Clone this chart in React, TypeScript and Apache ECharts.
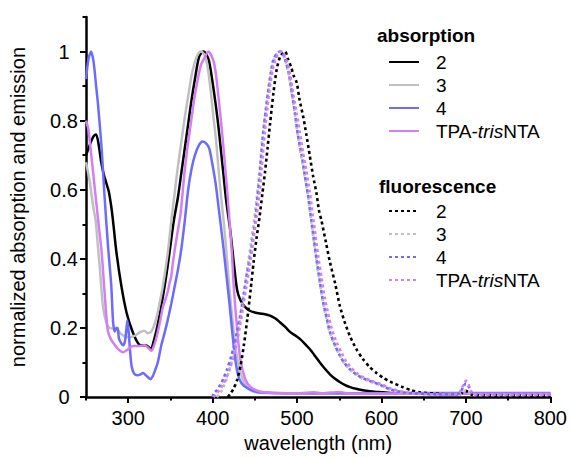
import React, { useEffect, useRef } from "react";
import * as echarts from "echarts";

const FONT = '"Liberation Sans", Arial, Helvetica, sans-serif';

const xMajorTicks = [300, 400, 500, 600, 700, 800];
const xMinorTicks = [250, 350, 450, 550, 650, 750];
const yMajorTicks = [0, 0.2, 0.4, 0.6, 0.8, 1.0];
const yMinorTicks = [0.1, 0.3, 0.5, 0.7, 0.9, 1.1];

const absNames = ["a2", "a3", "a4", "aT"];
const flNames = ["f2", "f3", "f4", "fT"];
const legendLabels: Record<string, string> = {
  a2: "2", a3: "3", a4: "4", aT: "TPA-{i|tris}NTA",
  f2: "2", f3: "3", f4: "4", fT: "TPA-{i|tris}NTA",
};
const colors = ["#000000", "#c0c0c0", "#6b6bff", "#d37ef5"];

// absorption, compound 2 (black)
const abs2 = [[250,0.70],[253,0.72],[256,0.74],[259,0.755],[262,0.76],[265,0.73],[268,0.68],[271,0.645],[274,0.62],[277,0.595],[280,0.55],[282,0.51],[286,0.42],[292,0.32],[298,0.245],[304,0.197],[310,0.163],[315,0.15],[321,0.15],[324,0.145],[327,0.139],[330,0.16],[333,0.188],[337,0.235],[341,0.29],[345,0.35],[349,0.42],[354,0.51],[359,0.58],[363,0.65],[367,0.72],[371,0.79],[375,0.86],[379,0.92],[384,0.985],[389,1.0],[393,0.99],[396,0.97],[400,0.91],[404,0.84],[407,0.78],[410,0.71],[413,0.64],[416,0.57],[421,0.48],[425,0.39],[429,0.31],[433,0.28],[438,0.262],[444,0.25],[450,0.245],[456,0.242],[462,0.24],[468,0.236],[474,0.228],[480,0.216],[486,0.203],[492,0.188],[498,0.178],[504,0.167],[509,0.155],[515,0.139],[521,0.12],[527,0.1],[533,0.082],[539,0.066],[545,0.053],[551,0.043],[557,0.035],[563,0.029],[570,0.024],[578,0.02],[586,0.017],[594,0.015],[610,0.012],[650,0.01],[700,0.01],[750,0.01],[800,0.01]];

// absorption, compound 3 (grey)
const abs3 = [[250,0.68],[254,0.63],[258.6,0.55],[261.5,0.51],[264,0.44],[266.5,0.37],[270,0.264],[274,0.216],[278,0.2],[286,0.197],[292,0.182],[300,0.173],[308,0.178],[314,0.188],[319,0.192],[323,0.185],[327.5,0.19],[333,0.225],[337,0.27],[341,0.32],[347,0.42],[351,0.51],[355,0.59],[359,0.67],[363,0.74],[367,0.81],[371,0.87],[375,0.93],[379,0.97],[382,0.99],[386,1.0],[389,0.995],[392,0.98],[395,0.94],[398,0.88],[401,0.81],[404,0.745],[407,0.66],[410,0.58],[413,0.51],[416,0.43],[419,0.34],[422,0.26],[425,0.19],[428,0.13],[432,0.08],[436,0.05],[440,0.032],[445,0.02],[450,0.015],[460,0.012],[500,0.01],[600,0.01],[700,0.01],[800,0.01]];

// absorption, compound 4 (blue)
const abs4 = [[250,0.92],[253,0.98],[256,1.0],[259,0.97],[262,0.9],[264.5,0.84],[268.5,0.72],[272,0.58],[276,0.44],[280,0.32],[282,0.22],[284,0.19],[286,0.2],[287.5,0.2],[289,0.17],[292,0.155],[294,0.15],[296,0.16],[298,0.2],[299,0.222],[300.5,0.19],[302,0.14],[304,0.09],[307,0.068],[311,0.063],[314,0.065],[317.5,0.07],[321,0.063],[324,0.056],[326.5,0.052],[329,0.06],[331,0.072],[335,0.1],[339,0.148],[343,0.185],[347,0.225],[351,0.27],[355,0.32],[359,0.37],[363,0.43],[367,0.51],[371,0.6],[375,0.66],[379,0.7],[384,0.73],[388,0.74],[392,0.735],[396,0.72],[400,0.67],[404,0.61],[408,0.53],[412,0.45],[416,0.36],[420,0.27],[424,0.17],[428,0.09],[432,0.05],[437,0.033],[448,0.018],[460,0.013],[500,0.011],[600,0.011],[650,0.012],[700,0.012],[750,0.012],[800,0.012]];

// absorption, TPA-trisNTA (violet)
const absT = [[250,0.8],[252.8,0.775],[256.7,0.69],[260.6,0.6],[264.5,0.51],[268.5,0.42],[271.5,0.32],[274.4,0.225],[276,0.19],[279,0.17],[282,0.158],[288,0.139],[294,0.13],[300,0.139],[305.8,0.148],[313.7,0.148],[319.6,0.15],[323.5,0.143],[327.5,0.134],[330,0.145],[333,0.168],[337,0.21],[341,0.26],[345,0.29],[347,0.307],[349,0.33],[351,0.35],[353,0.39],[356,0.44],[359,0.485],[362,0.53],[366.7,0.65],[370,0.72],[374.6,0.8],[378,0.86],[382.4,0.92],[386,0.96],[390,0.98],[395,1.0],[400,0.98],[403,0.95],[406,0.89],[409,0.82],[412,0.745],[415,0.66],[417.8,0.58],[420,0.51],[423,0.41],[425,0.32],[429,0.197],[432.8,0.11],[438.7,0.052],[444.6,0.03],[456,0.016],[470,0.012],[500,0.011],[520,0.014],[530,0.011],[550,0.015],[560,0.011],[600,0.01],[700,0.01],[800,0.01]];

// fluorescence, compound 2 (black dotted)
const fl2 = [[418,0],[421,0.01],[425,0.025],[429,0.05],[433,0.09],[437,0.15],[441,0.225],[445,0.31],[448.5,0.39],[452,0.46],[455.5,0.52],[459,0.59],[462,0.65],[465,0.72],[468,0.79],[472,0.88],[476,0.95],[480,0.985],[484,0.998],[486,1.0],[489,0.98],[493,0.955],[496,0.93],[499.6,0.91],[503,0.86],[507.4,0.81],[511,0.76],[515,0.7],[519,0.64],[523,0.59],[526,0.54],[529,0.51],[534,0.45],[539,0.39],[545,0.33],[550.7,0.264],[556,0.22],[562.5,0.177],[570,0.14],[578,0.11],[586,0.087],[594,0.07],[602,0.056],[610,0.045],[625,0.029],[635,0.02],[645,0.014],[665,0.01],[680,0.008],[692,0.008],[697,0.014],[700,0.018],[703,0.014],[708,0.006],[740,0.005],[800,0.004]];

// fluorescence, compound 3 (grey dotted)
const fl3 = [[405,0],[409,0.012],[413,0.03],[417,0.055],[421,0.09],[425,0.13],[429,0.18],[433,0.235],[437,0.3],[441,0.37],[445,0.44],[449,0.51],[452,0.57],[455,0.64],[459,0.75],[462,0.81],[465,0.87],[468,0.92],[471,0.96],[475,0.99],[479,1.0],[482,0.998],[486,0.975],[490,0.935],[494,0.875],[497.6,0.815],[501,0.755],[505,0.695],[509,0.64],[513,0.58],[517,0.505],[520,0.45],[523,0.395],[527,0.33],[531,0.27],[535,0.225],[539,0.185],[545,0.148],[551,0.118],[556,0.097],[562.5,0.08],[570,0.064],[578,0.053],[586,0.045],[598,0.035],[610,0.022],[625,0.013],[645,0.009],[665,0.007],[690,0.007],[695,0.01],[700,0.02],[705,0.01],[710,0.006],[800,0.006]];

// fluorescence, compound 4 (blue dotted)
const fl4 = [[400,0],[401,0.01],[405,0.02],[409,0.035],[413,0.055],[417,0.08],[421,0.11],[425,0.145],[429,0.19],[433,0.24],[437,0.3],[441,0.36],[446,0.43],[450.5,0.51],[452.5,0.56],[456,0.65],[460,0.765],[463,0.83],[466,0.89],[469,0.94],[472,0.977],[476,0.993],[480,1.0],[482,1.0],[486,0.975],[490,0.94],[494,0.88],[497.6,0.82],[501,0.76],[505.5,0.7],[509,0.645],[513,0.585],[517,0.51],[520,0.455],[523,0.4],[527,0.335],[531,0.274],[535,0.23],[539,0.188],[545,0.15],[550.7,0.12],[556,0.099],[562.5,0.081],[570,0.066],[578,0.055],[586,0.047],[598,0.036],[610,0.023],[625,0.014],[645,0.01],[665,0.008],[690,0.008],[693,0.012],[697,0.03],[700,0.04],[703,0.032],[706,0.015],[710,0.008],[750,0.007],[800,0.007]];

// fluorescence, TPA-trisNTA (violet dotted)
const flT = [[401,0],[404,0.008],[408,0.02],[412,0.035],[416,0.055],[420,0.08],[424,0.11],[428,0.15],[432,0.2],[436,0.26],[440,0.32],[444,0.38],[448,0.45],[452,0.52],[455,0.58],[458,0.66],[462,0.77],[465,0.84],[468,0.9],[471,0.945],[475,0.98],[479,0.997],[482,1.0],[485,0.99],[488,0.97],[492,0.93],[496,0.87],[499.6,0.82],[503,0.77],[507,0.71],[511,0.655],[515,0.595],[519,0.52],[522,0.465],[525,0.41],[529,0.345],[533,0.285],[537,0.24],[541,0.198],[547,0.158],[553,0.127],[558,0.104],[564,0.085],[571,0.069],[579,0.057],[587,0.048],[599,0.038],[611,0.025],[626,0.015],[645,0.01],[665,0.008],[690,0.008],[693,0.015],[697,0.035],[700,0.047],[703,0.038],[706,0.018],[710,0.008],[750,0.007],[800,0.007]];

const absData = [abs2, abs3, abs4, absT];
const flData = [fl2, fl3, fl4, flT];

export default function App() {
  const ref = useRef<HTMLDivElement>(null);
  useEffect(() => {
    document.body.style.margin = "0";
    if (!ref.current) return;
    const chart = echarts.init(ref.current, null, { renderer: "svg" });

    const lineSeries = (name: string, data: number[][], color: string, dotted: boolean, z: number) => ({
      type: "line",
      name,
      data,
      xAxisIndex: 0,
      yAxisIndex: 0,
      showSymbol: false,
      symbol: "none",
      smooth: 0.25,
      z,
      lineStyle: dotted
        ? { color, width: 2.6, type: [3, 3] }
        : { color, width: 2.5 },
      itemStyle: { color },
      emphasis: { disabled: true },
    });

    const absOrder = [1, 2, 3, 0];
    const series: any[] = [];
    absOrder.forEach((i) => series.push(lineSeries(absNames[i], absData[i], colors[i], false, 2 + i)));
    const flOrder = [1, 2, 3, 0];
    flOrder.forEach((i) => series.push(lineSeries(flNames[i], flData[i], colors[i], true, 10 + i)));

    const legendCommon = {
      orient: "vertical",
      left: 388,
      padding: 0,
      itemWidth: 30,
      itemHeight: 14,
      itemGap: 0,
      selectedMode: false,
      itemStyle: { opacity: 0, borderWidth: 0 },
      formatter: (n: string) => legendLabels[n],
      textStyle: {
        fontFamily: FONT,
        fontSize: 19,
        color: "#000",
        lineHeight: 23,
        padding: [0, 0, 0, 12],
        rich: {
          i: { fontFamily: FONT, fontSize: 19, fontStyle: "italic", color: "#000", lineHeight: 23 },
        },
      },
    };

    const axisFont = { fontFamily: FONT, fontSize: 20, color: "#000" };

    chart.setOption({
      animation: false,
      backgroundColor: "#fff",
      grid: { left: 85, right: 19, top: 17, bottom: 60 },
      xAxis: [
        {
          type: "value",
          min: 250,
          max: 800,
          name: "wavelength (nm)",
          nameLocation: "middle",
          nameGap: 31,
          nameTextStyle: axisFont,
          axisLine: { show: true, lineStyle: { color: "#000", width: 2.5 } },
          axisTick: { show: true, length: 6, lineStyle: { color: "#000", width: 2 }, customValues: xMajorTicks },
          axisLabel: { ...axisFont, margin: 11, customValues: xMajorTicks },
          splitLine: { show: false },
        },
        {
          type: "value",
          min: 250,
          max: 800,
          position: "bottom",
          axisLine: { show: false },
          axisTick: { show: true, length: 3.5, lineStyle: { color: "#000", width: 2 }, customValues: xMinorTicks },
          axisLabel: { show: false },
          splitLine: { show: false },
        },
      ],
      yAxis: [
        {
          type: "value",
          min: 0,
          max: 1.1,
          name: "normalized absorption and emission",
          nameLocation: "middle",
          nameGap: 58,
          nameRotate: 90,
          nameTextStyle: axisFont,
          axisLine: { show: true, lineStyle: { color: "#000", width: 2.5 } },
          axisTick: { show: true, length: 6, lineStyle: { color: "#000", width: 2 }, customValues: yMajorTicks },
          axisLabel: {
            ...axisFont,
            align: "center",
            margin: 22,
            customValues: yMajorTicks,
            formatter: (v: number) => String(Math.round(v * 10) / 10),
          },
          splitLine: { show: false },
        },
        {
          type: "value",
          min: 0,
          max: 1.1,
          position: "left",
          axisLine: { show: false },
          axisTick: { show: true, length: 3.5, lineStyle: { color: "#000", width: 2 }, customValues: yMinorTicks },
          axisLabel: { show: false },
          splitLine: { show: false },
        },
      ],
      legend: [
        { ...legendCommon, top: 50.5, data: absNames },
        { ...legendCommon, top: 199.5, data: flNames },
      ],
      graphic: [
        {
          type: "text",
          left: 377,
          top: 26,
          style: { text: "absorption", fontFamily: FONT, fontSize: 19, fontWeight: "bold", fill: "#000" },
        },
        {
          type: "text",
          left: 379,
          top: 177,
          style: { text: "fluorescence", fontFamily: FONT, fontSize: 19, fontWeight: "bold", fill: "#000" },
        },
      ],
      series,
    });
    return () => chart.dispose();
  }, []);
  return <div ref={ref} style={{ width: 570, height: 458 }} />;
}
